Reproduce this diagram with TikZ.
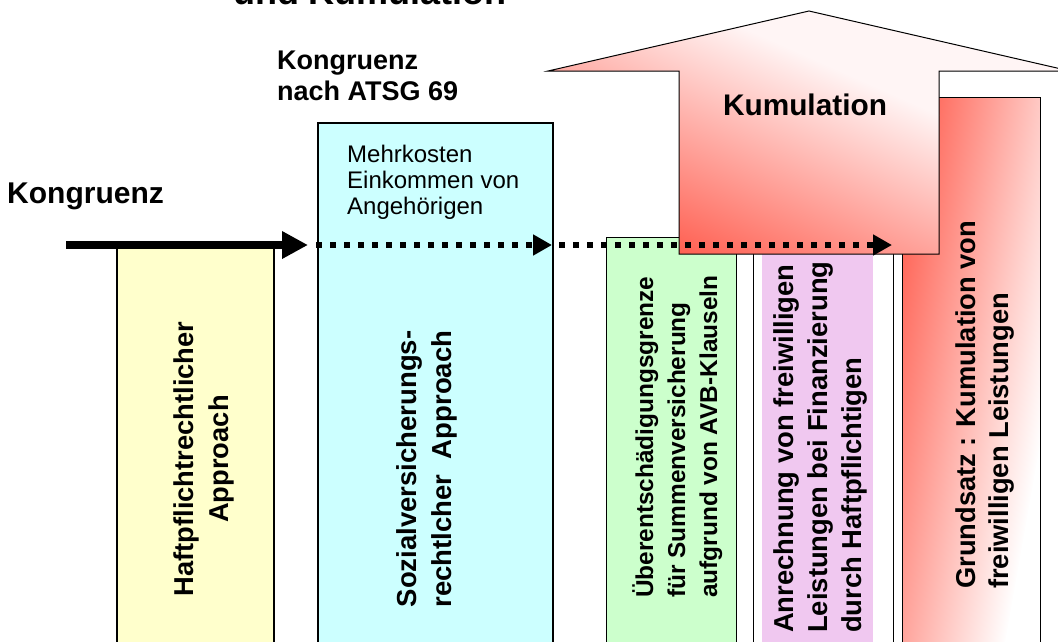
\documentclass[tikz,border=0pt]{standalone}
\usepackage{fontspec}
\setmainfont{Liberation Sans}
\usetikzlibrary{arrows.meta}
\definecolor{yelfill}{HTML}{FFFFCC}
\definecolor{cyafill}{HTML}{CCFFFF}
\definecolor{grefill}{HTML}{CCFFCC}
\definecolor{pinkfill}{HTML}{F0C8F0}
\definecolor{kred}{HTML}{FF4E3E}
\definecolor{kmid}{HTML}{FFA8A0}
\definecolor{kpale}{HTML}{FFF5F5}
\begin{document}
\begin{tikzpicture}[x=1pt,y=-1pt,
  thinbox/.style={draw=black, line width=1pt},
  thickbox/.style={draw=black, line width=2.5pt},
  vtext/.style={rotate=90, inner sep=0pt},
  bigarrow/.style={line width=8pt, -{Triangle[length=26pt,width=26pt]}},
  dotarrow/.style={line width=6pt, dash pattern=on 6pt off 8pt, -{Triangle[length=19pt,width=20pt]}}]
\useasboundingbox (0,0) rectangle (1058,641);
\clip (0,0) rectangle (1058,641);

% columns
\draw[thickbox, fill=yelfill] (117,247) rectangle (274,700);
\draw[thickbox, fill=cyafill] (318,123) rectangle (553,700);
\draw[thinbox, fill=grefill] (606,237) rectangle (736,700);
\draw[thinbox, fill=white] (753,240) rectangle (893,700);
\fill[pinkfill] (762,240) rectangle (873,700);

% red column with diagonal gradient
\begin{scope}
  \clip (902,97) rectangle (1040,700);
  \begin{scope}[transform canvas={rotate around={-10:(1000,100)}}]
    \fill[kred] (600,-400) rectangle (901,900);
    \shade[left color=kred, middle color=kmid, right color=white] (900,-400) rectangle (1100,900);
    \fill[white] (1099,-400) rectangle (1400,900);
  \end{scope}
\end{scope}
\draw[thinbox] (902,97) rectangle (1040,700);

% Kumulation arrow with diagonal gradient
\begin{scope}
  \clip (548,71) -- (809,11) -- (1070,71) -- (939,71) -- (939,254) -- (679,254) -- (679,71) -- cycle;
  \begin{scope}[transform canvas={rotate around={-24:(800,195)}}]
    \fill[kpale] (400,-300) rectangle (1200,66);
    \shade[top color=kpale, middle color=kmid, bottom color=kred] (400,65) rectangle (1200,325);
    \fill[kred] (400,324) rectangle (1200,700);
  \end{scope}
\end{scope}
\draw[line width=1pt] (548,71) -- (809,11) -- (1070,71) -- (939,71) -- (939,254) -- (679,254) -- (679,71) -- cycle;

% texts
\node[anchor=base, font=\fontsize{36}{40}\selectfont\bfseries] (title) at (370,4.5) {und Kumulation};
\node[anchor=base west, inner sep=0pt, font=\fontsize{30}{36}\selectfont\bfseries] (kong) at (7,203) {Kongruenz};
\node[anchor=north west, inner sep=0pt, align=left, font=\fontsize{27}{31}\selectfont\bfseries] (katsg) at (277,51) {Kongruenz\\nach ATSG 69};
\node[anchor=north west, inner sep=0pt, align=left, font=\fontsize{24}{26}\selectfont] (mehr) at (347,145) {Mehrkosten\\Einkommen von\\Angehörigen};
\node[anchor=base, font=\fontsize{29.8}{34}\selectfont\bfseries] (kum) at (805,115) {Kumulation};

\node[vtext, align=center, font=\fontsize{27.3}{35}\selectfont\bfseries] (haft) at (204,459) {Haftpflichtrechtlicher\\Approach};
\node[vtext, align=center, font=\fontsize{27.5}{35}\selectfont\bfseries] (sozi) at (427,469) {Sozialversicherungs-\\rechtlcher\ \ Approach};
\node[vtext, anchor=north west, align=left, font=\fontsize{24.4}{32}\selectfont\bfseries] (uber) at (632,598) {Überentschädigungsgrenze\\für Summenversicherung\\aufgrund von AVB-Klauseln};
\node[vtext, anchor=north west, align=left, font=\fontsize{27.4}{34}\selectfont\bfseries] (anr) at (773,633) {Anrechnung von freiwilligen\\Leistungen bei Finanzierung\\durch Haftpflichtigen};
\node[vtext, anchor=north west, align=left, font=\fontsize{27.3}{33}\selectfont\bfseries] (grund) at (956,589) {Grundsatz : Kumulation von\\freiwilligen Leistungen};

% Kongruenz arrows
\coordinate (a0) at (66,245);
\coordinate (a1) at (308,245);
\coordinate (b0) at (316,245);
\coordinate (b1) at (552,245);
\coordinate (c0) at (559,245);
\coordinate (c1) at (892,245);
\draw[bigarrow] (a0) -- (a1);
\draw[dotarrow] (b0) -- (b1);
\draw[dotarrow] (c0) -- (c1);
\end{tikzpicture}
\end{document}
